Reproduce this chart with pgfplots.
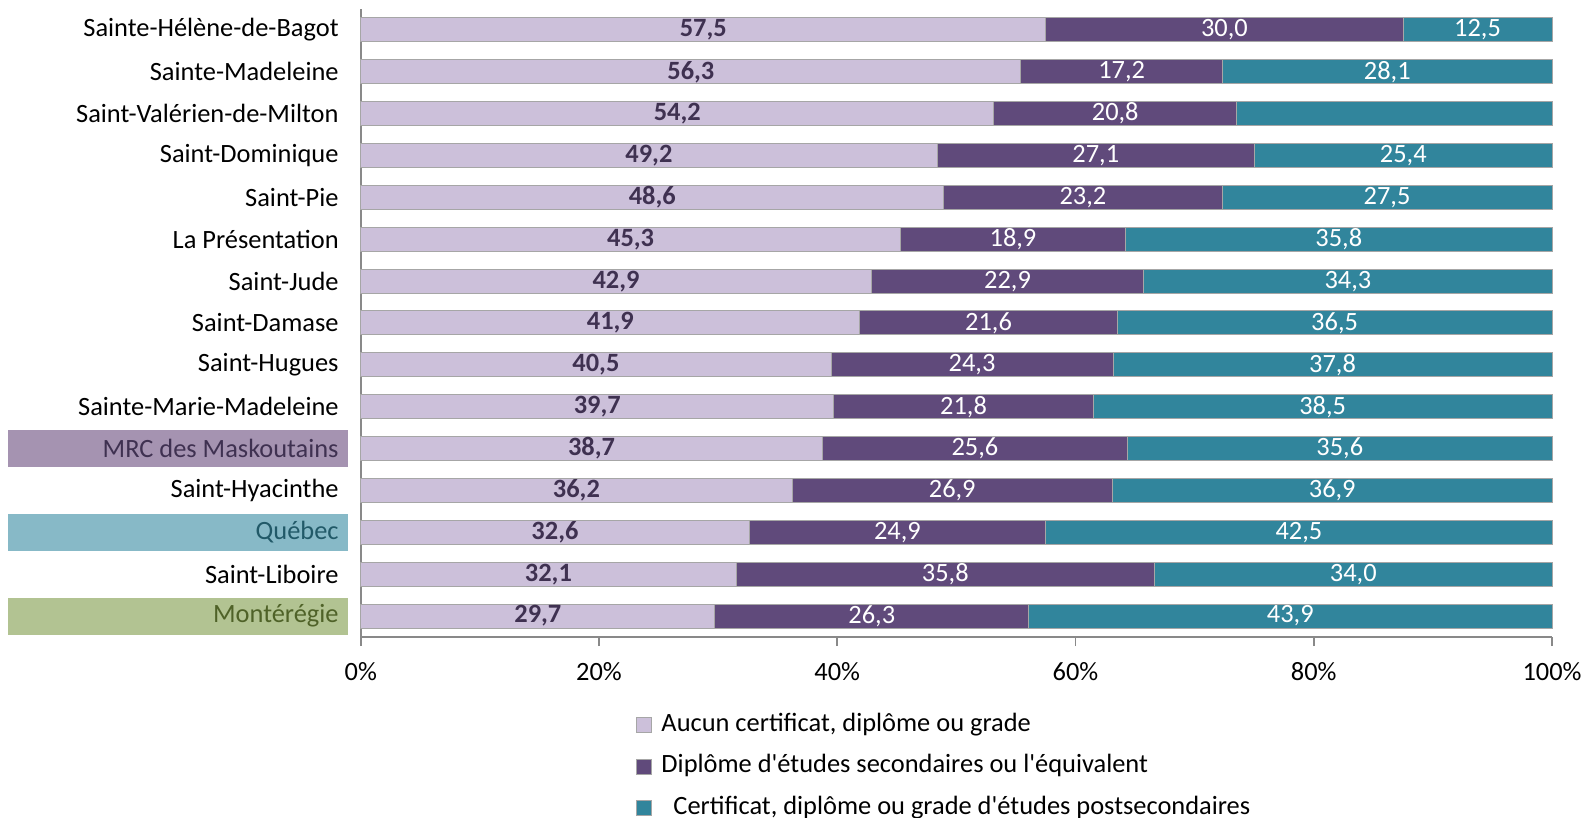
\documentclass[border=0pt]{standalone}
\usepackage{fontspec}
\setmainfont{Carlito}[Ligatures=TeXOff]
\usepackage{pgfplots}
\pgfplotsset{compat=1.18}
\usepackage{pgfplotstable}
\definecolor{cA}{HTML}{CCC0DA}
\definecolor{cB}{HTML}{604A7B}
\definecolor{cC}{HTML}{31859C}
\definecolor{lblA}{HTML}{3F3151}
\definecolor{boxM}{HTML}{A593B1}
\definecolor{boxQ}{HTML}{87B9C7}
\definecolor{boxR}{HTML}{B2C392}
\definecolor{txtM}{HTML}{3F3151}
\definecolor{txtQ}{HTML}{215968}
\definecolor{txtR}{HTML}{4F6228}
\definecolor{axgray}{HTML}{898989}
\definecolor{bordergray}{HTML}{A6A6A6}

% rows top to bottom; a: aucun, b: secondaire, c: postsecondaire
\pgfplotstableread{
a    b    c    la   lb   lc
57.5 30.0 12.5 57,5 30,0 12,5
56.3 17.2 28.1 56,3 17,2 28,1
54.2 20.8 27.0 54,2 20,8 {}
49.2 27.1 25.4 49,2 27,1 25,4
48.6 23.2 27.5 48,6 23,2 27,5
45.3 18.9 35.8 45,3 18,9 35,8
42.9 22.9 34.3 42,9 22,9 34,3
41.9 21.6 36.5 41,9 21,6 36,5
40.5 24.3 37.8 40,5 24,3 37,8
39.7 21.8 38.5 39,7 21,8 38,5
38.7 25.6 35.6 38,7 25,6 35,6
36.2 26.9 36.9 36,2 26,9 36,9
32.6 24.9 42.5 32,6 24,9 42,5
32.1 35.8 34.0 32,1 35,8 34,0
29.7 26.3 43.9 29,7 26,3 43,9
}\data

\newcommand{\lbfont}{\fontsize{13.2}{15.8}\selectfont}

\begin{document}
\begin{tikzpicture}
\path[use as bounding box] (-180.4pt,-90.5pt) rectangle (611.6pt,318.5pt);
% highlight boxes behind the category labels (rows y=4, 2, 0)
\fill[boxM] (-176.4pt,{94.2pt-9.25pt}) rectangle (-6.4pt,{94.2pt+9.25pt});
\fill[boxQ] (-176.4pt,{52.33pt-9.25pt}) rectangle (-6.4pt,{52.33pt+9.25pt});
\fill[boxR] (-176.4pt,{10.47pt-9.25pt}) rectangle (-6.4pt,{10.47pt+9.25pt});
\begin{axis}[
  scale only axis,
  width=595.6pt, height=314pt,
  xbar stacked, bar width=12pt,
  xmin=0, xmax=100, ymin=-0.5, ymax=14.5,
  axis x line*=bottom, axis y line*=left,
  axis line style={axgray, line width=0.8pt},
  /pgf/number format/assume math mode=true,
  xtick={0,20,...,100},
  xticklabel={\pgfmathprintnumber{\tick}\%},
  ytick={0,...,14},
  yticklabels={\textcolor{txtR}{Montérégie}, Saint-Liboire, \textcolor{txtQ}{Québec}, Saint-Hyacinthe, \textcolor{txtM}{MRC des Maskoutains}, Sainte-Marie-Madeleine, Saint-Hugues, Saint-Damase, Saint-Jude, La Présentation, Saint-Pie, Saint-Dominique, Saint-Valérien-de-Milton, Sainte-Madeleine, Sainte-Hélène-de-Bagot},
  tick align=outside,
  major tick length=4.5pt,
  xtick style={axgray, line width=0.8pt},
  ytick style={draw=none},
  x tick label style={font=\lbfont, anchor=center, yshift=-13pt},
  y tick label style={font=\lbfont, anchor=east, inner sep=0pt, xshift=-6.4pt},
  clip=false,
  legend style={at={(0.2311,-0.121)}, anchor=north west, draw=none, fill=none,
    inner sep=0pt, row sep=8.7pt, column sep=4.5pt, font=\lbfont,
    nodes={inner sep=0pt, text height=9pt, text depth=3pt}},
  legend cell align=left,
  legend image code/.code={\draw[#1] (0pt,-3.75pt) rectangle (7.5pt,3.75pt);},
  nodes near coords,
  point meta=explicit symbolic,
]
\addplot[fill=cA, draw=bordergray, line width=0.5pt,
  every node near coord/.style={anchor=center, font=\lbfont\bfseries, text=lblA}]
  table[x expr={100*\thisrow{a}/(\thisrow{a}+\thisrow{b}+\thisrow{c})}, y expr={14-\coordindex}, meta=la] {\data};
\addlegendentry{Aucun certificat, diplôme ou grade}

\addplot[fill=cB, draw=bordergray, line width=0.5pt,
  every node near coord/.style={anchor=center, font=\lbfont, text=white}]
  table[x expr={100*\thisrow{b}/(\thisrow{a}+\thisrow{b}+\thisrow{c})}, y expr={14-\coordindex}, meta=lb] {\data};
\addlegendentry{Diplôme d'études secondaires ou l'équivalent}

\addplot[fill=cC, draw=bordergray, line width=0.5pt,
  every node near coord/.style={anchor=center, font=\lbfont, text=white}]
  table[x expr={100*\thisrow{c}/(\thisrow{a}+\thisrow{b}+\thisrow{c})}, y expr={14-\coordindex}, meta=lc] {\data};
\addlegendentry{\hspace{6pt}Certificat, diplôme ou grade d'études postsecondaires}
\end{axis}
\end{tikzpicture}
\end{document}
